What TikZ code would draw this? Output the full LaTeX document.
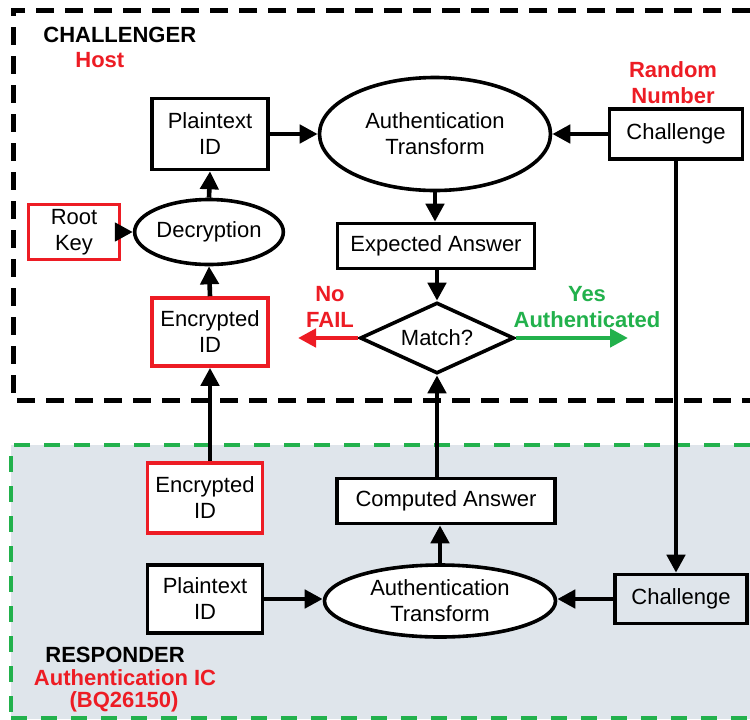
\documentclass[tikz,border=0pt]{standalone}
\usepackage{fontspec}
\setmainfont{Liberation Sans}
\usetikzlibrary{arrows.meta,shapes.geometric}

\definecolor{hostred}{HTML}{ED1C24}
\definecolor{okgreen}{HTML}{22B14C}
\definecolor{chipgray}{HTML}{DFE5EB}

\tikzset{
    every node/.style={font=\fontsize{11}{13}\selectfont,align=center,inner sep=0pt},
    box/.style={draw,line width=1.8pt,fill=white},
    keybox/.style={box,draw=hostred},
    oval/.style={draw,ellipse,line width=1.8pt,fill=white},
    flow/.style={line width=2.3pt,-{Triangle[length=9pt,width=9pt]}},
    tag/.style={font=\fontsize{11}{13}\selectfont\bfseries},
}

\begin{document}
\begin{tikzpicture}[x=0.5pt,y=-0.5pt]
    \useasboundingbox (0,0) rectangle (750,719);
    %% regions
    \fill[chipgray] (11,445) rectangle (750,719);
    \draw[okgreen,line width=2pt,dash pattern=on 8pt off 7pt] (750,445) -- (11,445) -- (11,719);
    \draw[okgreen,line width=2pt,dash pattern=on 8pt off 7pt] (11,718) -- (750,718);
    \draw[line width=2.5pt,dash pattern=on 9pt off 5.5pt] (750,10) -- (13,10) -- (13,400) -- (750,400);
    %% titles
    \node[tag,anchor=west] (chtitle) at (43,35) {CHALLENGER};
    \node[tag,anchor=west,text=hostred] (chsub) at (75,60) {Host};
    \node[tag,text=hostred] (rnd) at (673,83) {Random\\Number};
    \node[tag,anchor=west] (rsptitle) at (45,655) {RESPONDER};
    \node[tag,text=hostred] (rspsub) at (125,678) {Authentication IC};
    \node[tag,text=hostred] (rsppart) at (124,702) {(BQ26150)};
    %% challenger side
    \node[box,minimum width=58pt,minimum height=35.5pt] (ptidA) at (210,134) {Plaintext\\ID};
    \node[oval,minimum width=115.5pt,minimum height=56.5pt] (authA) at (435,134) {Authentication\\Transform};
    \node[box,minimum width=66.5pt,minimum height=25pt] (chalA) at (676,134) {Challenge};
    \node[keybox,minimum width=45.5pt,minimum height=27.5pt] (rootkey) at (74,232) {Root\\Key};
    \node[oval,minimum width=66pt,minimum height=32.5pt] (decrypt) at (209,232) {Decryption};
    \node[keybox,minimum width=58pt,minimum height=34pt] (encidA) at (210,332) {Encrypted\\ID};
    \node[box,minimum width=98.5pt,minimum height=22.5pt] (expected) at (436,246) {Expected Answer};
    \node[draw,diamond,shape aspect=2,line width=1.8pt,fill=white,minimum width=77pt,minimum height=35.5pt] (match) at (437,338) {Match?};
    \coordinate (failend) at (298,338);
    \coordinate (passend) at (628,338);
    \node[tag,text=hostred] (nolbl) at (330,307) {No\\FAIL};
    \node[tag,text=okgreen] (yeslbl) at (587,307) {Yes\\Authenticated};
    %% responder side
    \node[keybox,minimum width=57.5pt,minimum height=35pt] (encidB) at (205,498) {Encrypted\\ID};
    \node[box,minimum width=57.5pt,minimum height=34pt] (ptidB) at (205,599) {Plaintext\\ID};
    \node[box,minimum width=109pt,minimum height=22.5pt] (computed) at (446,501) {Computed Answer};
    \node[oval,minimum width=115.5pt,minimum height=36pt] (authB) at (440,601) {Authentication\\Transform};
    \node[box,fill=none,minimum width=66pt,minimum height=24.5pt] (chalB) at (681,599) {Challenge};
    %% connections
    \draw[flow] (ptidA.east) -- (authA.west);
    \draw[flow] (chalA.west) -- (authA.east);
    \draw[flow] (authA.south) -- (authA.south |- expected.north);
    \draw[flow] (expected.south -| match) -- (match.north);
    \draw[flow] (rootkey.east) -- (decrypt.west);
    \draw[flow] (decrypt.north) -- (ptidA.south);
    \draw[flow] (encidA.north) -- (decrypt.south);
    \draw[flow] (encidB.north -| encidA) -- (encidA.south);
    \draw[flow,hostred] (match.west) -- (failend);
    \draw[flow,okgreen] (match.east) -- (passend);
    \draw[flow] (chalA.south) -- (chalA.south |- chalB.north);
    \draw[flow] (computed.north -| match) -- (match.south);
    \draw[flow] (authB.north) -- (authB.north |- computed.south);
    \draw[flow] (ptidB.east) -- (ptidB.east -| authB.west);
    \draw[flow] (chalB.west) -- (chalB.west -| authB.east);
\end{tikzpicture}
\end{document}
